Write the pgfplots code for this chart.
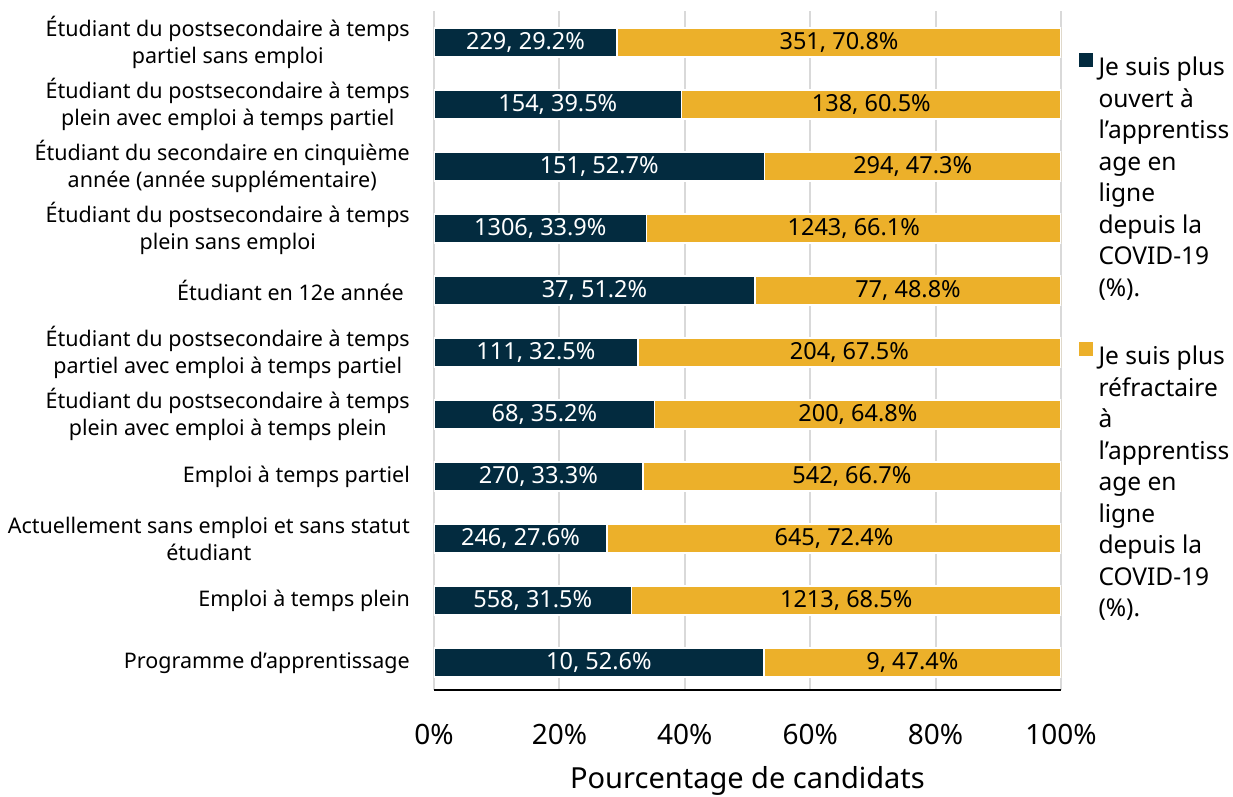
\documentclass[border=0pt]{standalone}
\usepackage{fontspec}
\setmainfont{Noto Sans}
\usepackage{pgfplots}
\pgfplotsset{compat=1.18}
\usepackage{pgfplotstable}
\definecolor{dark}{HTML}{032B3F}
\definecolor{gold}{HTML}{ECB02A}
\definecolor{gridc}{HTML}{D9D9D9}

\pgfplotstableread[col sep=semicolon]{
y;a;b;la;lb
0;52.6;47.4;10, 52.6\%;9, 47.4\%
1;31.5;68.5;558, 31.5\%;1213, 68.5\%
2;27.6;72.4;246, 27.6\%;645, 72.4\%
3;33.3;66.7;270, 33.3\%;542, 66.7\%
4;35.2;64.8;68, 35.2\%;200, 64.8\%
5;32.5;67.5;111, 32.5\%;204, 67.5\%
6;51.2;48.8;37, 51.2\%;77, 48.8\%
7;33.9;66.1;1306, 33.9\%;1243, 66.1\%
8;52.7;47.3;151, 52.7\%;294, 47.3\%
9;39.5;60.5;154, 39.5\%;138, 60.5\%
10;29.2;70.8;229, 29.2\%;351, 70.8\%
}\data

\pgfplotsset{
  common/.style={
    at={(434pt,107pt)}, anchor=south west,
    scale only axis, width=627pt, height=679pt,
    xmin=0, xmax=100, ymin=-0.44, ymax=10.51,
  }
}

\begin{document}
\begin{tikzpicture}
\begin{axis}[
  common,
  xbar stacked, bar width=29pt,
  xtick={0,20,40,60,80,100},
  xticklabels={0\%,20\%,40\%,60\%,80\%,100\%},
  ytick={0,1,2,3,4,5,6,7,8,9,10},
  yticklabels={
    Programme d’apprentissage,
    Emploi à temps plein,
    Actuellement sans emploi et sans statut\\étudiant,
    Emploi à temps partiel,
    Étudiant du postsecondaire à temps\\plein avec emploi à temps plein,
    Étudiant du postsecondaire à temps\\partiel avec emploi à temps partiel,
    Étudiant en 12e année\hspace*{6pt},
    Étudiant du postsecondaire à temps\\plein sans emploi,
    Étudiant du secondaire en cinquième\\année (année supplémentaire),
    Étudiant du postsecondaire à temps\\plein avec emploi à temps partiel,
    Étudiant du postsecondaire à temps\\partiel sans emploi},
  major tick length=0pt,
  xmajorgrids, major grid style={gridc, line width=2pt},
  axis x line*=bottom, axis y line*=left,
  y axis line style={draw=none},
  x axis line style={black, line width=2pt, -},
  xticklabel style={anchor=base, yshift=-54pt, font=\fontsize{28}{33}\selectfont},
  yticklabel style={align=center, inner sep=0pt, xshift=-24pt, font=\fontsize{21.5}{26.5}\selectfont},
  xlabel={Pourcentage de candidats},
  xlabel style={at={(axis description cs:0.5,0)}, anchor=base, yshift=-98pt, font=\fontsize{29}{34}\selectfont},
  legend style={at={(axis description cs:1.0287,0.9375)}, anchor=north west,
    draw=none, fill=none, inner sep=0pt, outer sep=0pt,
    font=\fontsize{24.5}{31.5}\selectfont,
    cells={anchor=base west, inner sep=0pt},
    /tikz/column sep=4pt, /tikz/row sep=263pt},
  legend cell align=left,
]
\addplot[fill=dark, draw=white, line width=1.5pt,
  legend image code/.code={\fill[dark] (0pt,1pt) rectangle (12pt,13pt);}]
  table[x=a, y=y] {\data};
\addlegendentry{\parbox[t]{5cm}{\raggedright Je suis plus\\ouvert à\\l’apprentiss\\age en\\ligne\\depuis la\\COVID-19\\(\%).}}
\addplot[fill=gold, draw=white, line width=1.5pt,
  legend image code/.code={\fill[gold] (0pt,1pt) rectangle (12pt,13pt);}]
  table[x=b, y=y] {\data};
\addlegendentry{\parbox[t]{5cm}{\raggedright Je suis plus\\réfractaire\\à\\l’apprentiss\\age en\\ligne\\depuis la\\COVID-19\\(\%).}}
\end{axis}
\begin{axis}[
  common, axis lines=none, xtick=\empty, ytick=\empty,
]
\addplot[draw=none, nodes near coords, point meta=explicit symbolic,
  every node near coord/.append style={anchor=center, text=white, font=\fontsize{23.5}{28}\selectfont}]
  table[x expr=\thisrow{a}/2, y=y, meta=la] {\data};
\addplot[draw=none, nodes near coords, point meta=explicit symbolic,
  every node near coord/.append style={anchor=center, text=black, font=\fontsize{23.5}{28}\selectfont}]
  table[x expr=\thisrow{a}+\thisrow{b}/2, y=y, meta=lb] {\data};
\end{axis}
\pgfresetboundingbox
\path (0pt,0pt) rectangle (1233pt,797pt);
\end{tikzpicture}
\end{document}
